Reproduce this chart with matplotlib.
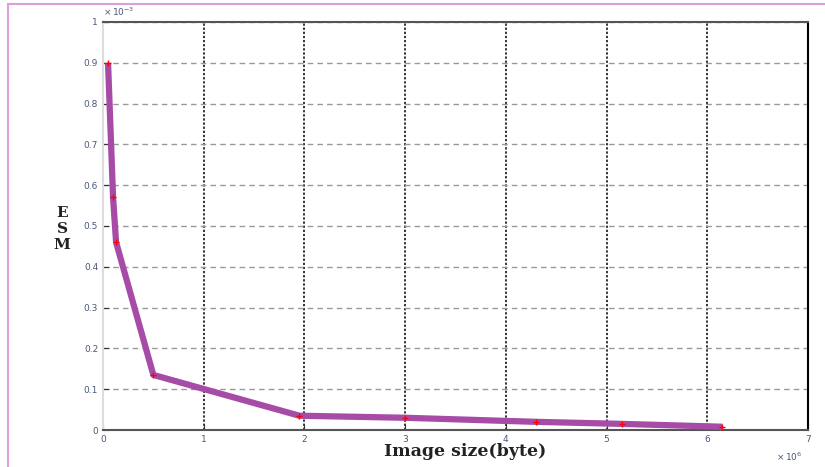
import matplotlib.pyplot as plt
import numpy as np
from matplotlib.patches import Rectangle

# image size in bytes (x 1e6) and error (x 1e-3)
size_mb = [0.05, 0.10, 0.13, 0.50, 1.95, 3.00, 4.30, 5.15, 6.15]
err = [0.900, 0.570, 0.460, 0.135, 0.035, 0.030, 0.020, 0.015, 0.008]

x_ticks = [0, 1, 2, 3, 4, 5, 6, 7]
y_ticks = [0, 0.1, 0.2, 0.3, 0.4, 0.5, 0.6, 0.7, 0.8, 0.9, 1]

fig = plt.figure(figsize=(8.25, 4.67), dpi=100)
ax = fig.add_axes([103/825, 37/467, 705/825, 408/467])

# frame around the whole figure
fig.patches.append(Rectangle((8/825, -0.1), 1.2, (463/467) + 0.1, transform=fig.transFigure,
                             fill=False, edgecolor='#d9a0dc', linewidth=1.5))

ax.plot(size_mb, err, color='#a64ca6', linewidth=4.5, solid_capstyle='butt', zorder=3)
ax.plot(size_mb, err, '+', color='red', markersize=4, markeredgewidth=1, zorder=4)

ax.set_xlim(0, 7)
ax.set_ylim(0, 1)
ax.set_xticks(x_ticks)
ax.set_yticks(y_ticks)
ax.set_xticklabels([str(t) for t in x_ticks])
ax.set_yticklabels(['0'] + ['%g' % t for t in y_ticks[1:-1]] + ['1'])
ax.tick_params(direction='in', labelsize=6.5, colors='#333333', labelcolor='#4a5878', length=4)

ax.xaxis.grid(True, linestyle=(0, (1.5, 1.2)), color='black', linewidth=1.1)
ax.yaxis.grid(True, linestyle=(0, (4, 3)), color='#999999', linewidth=1)
ax.set_axisbelow(True)

for s in ['top', 'bottom']:
    ax.spines[s].set_color('#555555')
    ax.spines[s].set_linewidth(1.5)
ax.spines['right'].set_color('black')
ax.spines['right'].set_linewidth(1.5)
ax.spines['left'].set_color('#dddddd')
ax.spines['left'].set_linewidth(1.5)

ax.text(0.0, 1.01, r'$\times\,10^{-3}$', transform=ax.transAxes, fontsize=6.5,
        color='#4a5878', ha='left', va='bottom')
ax.text(0.955, -0.05, r'$\times\,10^{6}$', transform=ax.transAxes, fontsize=6.5,
        color='#4a5878', ha='left', va='top')

fig.text(465/825, 1 - 452/467, 'Image size(byte)', fontsize=12.5, fontweight='bold',
         family='DejaVu Serif', ha='center', va='center', color='#222222')
fig.text(62/825, 1 - 229/467, 'E\nS\nM', fontsize=11, fontweight='bold',
         family='DejaVu Serif', ha='center', va='center', color='#222222', linespacing=1.15)

fig.savefig('out.png', dpi=100)
